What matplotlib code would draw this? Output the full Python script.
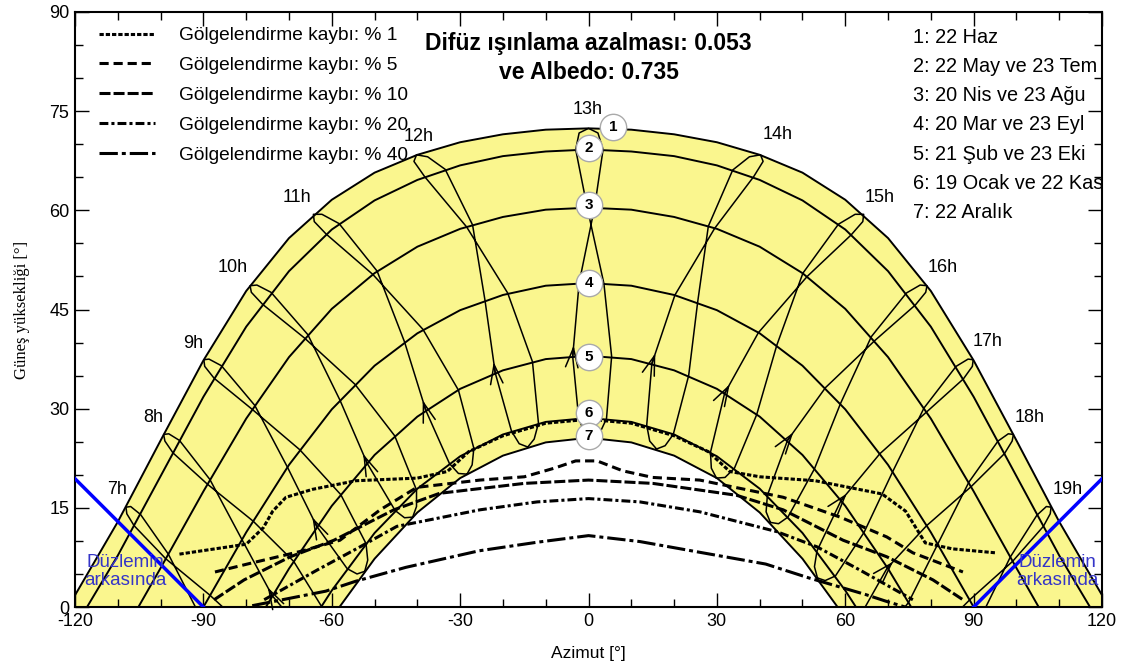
import matplotlib
matplotlib.use('Agg')
import matplotlib.pyplot as plt
from matplotlib.lines import Line2D

plt.rcParams['font.family'] = ['Liberation Sans', 'DejaVu Sans']
plt.rcParams['axes.unicode_minus'] = False

# date curves, symmetric about south: elevation read every 10 deg of azimuth
path_az = [0, 10, 20, 30, 40, 50, 60, 70, 80, 90, 100, 110, 120]
path_el = [
    [72.4, 72.2, 71.5, 70.3, 68.4, 65.7, 61.6, 55.8, 47.8, 37.3, 25.2, 12.9, 1.8],
    [69.2, 68.9, 68.2, 66.8, 64.6, 61.5, 57.1, 50.8, 42.4, 31.8, 19.8, 7.8],
    [60.4, 60.1, 59.0, 57.2, 54.5, 50.5, 45.1, 37.8, 28.5, 17.5, 5.9],
    [49.0, 48.6, 47.2, 44.9, 41.4, 36.5, 29.9, 21.5, 11.3],
    [38.0, 37.5, 35.8, 33.0, 28.8, 23.0, 15.3, 5.8],
    [28.6, 28.0, 26.1, 22.8, 17.9, 11.2, 2.5],
    [25.6, 24.9, 22.9, 19.5, 14.3, 7.3],
]
sunset_az = [121.8, 117.2, 105.2, 90.0, 75.4, 62.5, 58.2]
date_names = ['1: 22 Haz', '2: 22 May ve 23 Tem', '3: 20 Nis ve 23 Ağu', '4: 20 Mar ve 23 Eyl',
              '5: 21 Şub ve 23 Eki', '6: 19 Ocak ve 22 Kas', '7: 22 Aralık']
num_az = [5.8, 0, 0, 0, 0, 0, 0]
num_el = [72.6, 69.4, 60.8, 49.0, 37.8, 29.3, 25.8]

# hour loops, points in date order:
# Dec22 Jan6 Jan19 Feb21 Mar20 Apr20 May22 Jun7 Jun22 Jul7 Jul23 Aug23 Sep23 Oct23 Nov22 Dec7
hour_names = ['7h', '8h', '9h', '10h', '11h', '12h', '13h', '14h', '15h', '16h', '17h', '18h', '19h']
loop_az = [
    [-71.3, -73.2, -75.7, -83.6, -91.0, -98.2, -104.7, -107.0, -108.1, -107.9, -106.2, -98.8, -88.5, -78.8, -71.8, -71.0],
    [-62.2, -64.0, -66.4, -73.9, -81.0, -88.5, -95.6, -98.1, -99.3, -99.0, -97.1, -89.1, -78.4, -68.9, -62.4, -61.7],
    [-52.3, -54.1, -56.4, -63.5, -70.4, -78.0, -85.8, -88.7, -89.9, -89.7, -87.5, -78.6, -67.5, -57.9, -52.0, -51.6],
    [-41.1, -43.0, -45.2, -51.7, -58.1, -65.6, -74.2, -77.5, -79.1, -78.8, -76.2, -66.4, -54.6, -45.3, -40.2, -40.2],
    [-28.4, -30.4, -32.5, -38.0, -43.0, -49.4, -58.3, -62.3, -64.3, -64.1, -61.3, -50.4, -38.7, -30.4, -26.8, -27.2],
    [-14.2, -16.2, -18.0, -21.8, -24.2, -27.1, -33.5, -37.6, -40.2, -40.8, -38.3, -28.5, -18.9, -13.1, -11.7, -12.7],
    [0.9, -1.0, -2.3, -3.7, -2.2, 1.4, 3.4, 2.2, 0.0, -2.2, -3.0, -0.3, 3.6, 5.4, 4.2, 2.7],
    [15.9, 14.3, 13.6, 14.8, 20.2, 29.5, 38.6, 40.8, 40.2, 37.6, 33.7, 28.0, 25.5, 23.4, 19.8, 17.9],
    [29.9, 28.7, 28.5, 31.8, 39.7, 51.1, 61.4, 64.1, 64.3, 62.3, 58.4, 50.1, 44.0, 39.3, 34.1, 31.9],
    [42.5, 41.5, 41.8, 46.5, 55.4, 66.9, 76.4, 78.8, 79.1, 77.5, 74.3, 66.1, 58.9, 52.8, 46.6, 44.4],
    [53.5, 52.8, 53.4, 59.0, 68.1, 79.0, 87.6, 89.7, 89.9, 88.7, 85.9, 78.4, 71.1, 64.4, 57.7, 55.3],
    [63.3, 62.8, 63.6, 69.8, 79.0, 89.4, 97.2, 99.0, 99.3, 98.1, 95.7, 88.9, 81.6, 74.8, 67.5, 65.1],
    [72.4, 72.0, 73.0, 79.7, 89.1, 99.1, 106.3, 107.9, 108.1, 107.0, 104.8, 98.6, 91.5, 84.4, 76.7, 74.1],
]
loop_el = [
    [-14.5, -15.2, -14.8, -9.4, -1.1, 8.0, 14.0, 15.2, 15.1, 14.1, 12.3, 7.3, 1.8, -4.0, -10.4, -12.8],
    [-4.1, -4.7, -4.1, 1.7, 10.2, 19.3, 25.2, 26.2, 26.1, 25.1, 23.3, 18.6, 13.0, 6.9, 0.1, -2.4],
    [5.4, 5.0, 5.8, 12.2, 21.2, 30.5, 36.5, 37.5, 37.4, 36.4, 34.6, 29.9, 23.8, 17.0, 9.6, 7.1],
    [13.6, 13.5, 14.6, 21.7, 31.3, 41.2, 47.6, 48.7, 48.6, 47.6, 45.8, 40.7, 33.7, 25.9, 17.7, 15.2],
    [20.1, 20.2, 21.7, 29.7, 40.1, 50.8, 58.0, 59.4, 59.4, 58.3, 56.4, 50.3, 42.0, 32.8, 24.0, 21.5],
    [24.2, 24.7, 26.6, 35.4, 46.4, 57.8, 66.2, 68.1, 68.4, 67.4, 65.1, 57.5, 47.5, 37.1, 27.8, 25.4],
    [25.6, 26.4, 28.6, 37.9, 49.0, 60.4, 69.2, 71.7, 72.4, 71.7, 69.2, 60.4, 48.9, 37.9, 28.5, 26.4],
    [23.9, 25.1, 27.5, 36.8, 47.2, 57.3, 65.1, 67.4, 68.4, 68.1, 66.1, 57.6, 46.1, 35.0, 26.1, 24.4],
    [19.5, 21.0, 23.4, 32.3, 41.5, 50.0, 56.3, 58.3, 59.4, 59.4, 57.9, 50.5, 39.6, 29.1, 21.0, 19.6],
    [12.8, 14.4, 16.9, 25.2, 33.2, 40.3, 45.7, 47.6, 48.6, 48.7, 47.5, 40.9, 30.8, 20.9, 13.6, 12.6],
    [4.4, 6.1, 8.5, 16.1, 23.2, 29.5, 34.5, 36.4, 37.4, 37.5, 36.4, 30.1, 20.5, 11.3, 4.7, 4.0],
    [-5.3, -3.5, -1.2, 5.9, 12.3, 18.2, 23.2, 25.1, 26.1, 26.2, 25.1, 18.9, 9.5, 0.7, -5.3, -5.8],
    [-15.7, -13.9, -11.7, -5.0, 1.1, 6.9, 12.2, 14.1, 15.1, 15.2, 13.9, 7.6, -1.8, -10.5, -16.1, -16.4],
]
hour_label_az = [-110.2, -101.8, -92.4, -83.1, -68.1, -39.6, -0.1, 44.3, 68.1, 82.8, 93.3, 103.2, 112.0]
hour_label_el = [17.7, 28.7, 39.9, 51.3, 62.0, 71.1, 75.2, 71.4, 62.0, 51.3, 40.1, 28.7, 17.7]

# shading loss limit lines
loss_names = ['Gölgelendirme kaybı: % 1', 'Gölgelendirme kaybı: % 5', 'Gölgelendirme kaybı: % 10',
              'Gölgelendirme kaybı: % 20', 'Gölgelendirme kaybı: % 40']
loss1_az = [-95.6, -80.0, -76.0, -73.8, -70.7, -64.5, -54.4, -40.0, -33.0, -28.0, -20.0, -10.0, 0.0,
            10.0, 20.0, 28.0, 33.0, 40.0, 53.0, 68.6, 74.1, 78.7, 85.0, 95.1]
loss1_el = [8.0, 9.5, 12.0, 14.5, 16.6, 17.8, 19.1, 19.5, 20.5, 23.5, 25.9, 27.8, 28.4,
            27.8, 25.9, 23.5, 20.5, 19.7, 19.1, 17.1, 14.5, 9.7, 8.8, 8.2]
loss5_az = [-87.3, -79.1, -67.4, -58.1, -48.7, -40.1, -25.4, -15.0, -8.0, -3.0, 2.0, 8.0, 15.0,
            26.0, 45.5, 58.8, 69.7, 75.8, 87.5]
loss5_el = [5.3, 6.6, 8.4, 10.1, 14.7, 18.1, 19.2, 19.7, 21.0, 22.1, 22.1, 20.6, 19.6,
            19.2, 16.6, 13.6, 10.6, 8.2, 5.3]
loss10_az = [-87.5, -80.5, -69.7, -59.5, -45.5, -34.8, -15.0, 0.0, 15.0, 34.6, 45.5, 59.5, 69.7, 80.5, 87.5]
loss10_el = [1.1, 4.1, 7.6, 10.1, 14.7, 17.2, 18.7, 19.2, 18.7, 16.9, 14.7, 10.1, 7.6, 4.1, 1.1]
loss20_az = [-75.8, -63.4, -53.4, -44.8, -25.4, -12.0, 0.0, 12.0, 26.0, 44.0, 53.4, 63.4, 75.8]
loss20_el = [1.1, 5.6, 9.1, 12.2, 14.7, 15.9, 16.4, 15.9, 14.4, 11.4, 9.1, 5.6, 1.1]
loss40_az = [-78.6, -61.4, -54.4, -42.7, -25.6, -12.0, 0.0, 12.0, 25.8, 41.4, 51.5, 64.7, 69.4, 74.0]
loss40_el = [0.2, 2.4, 3.9, 6.0, 8.5, 9.8, 10.8, 9.9, 8.3, 6.5, 4.4, 1.9, 0.9, 0.0]
loss_styles = [(0, (1.4, 0.65)), (0, (3.0, 1.6)), (0, (3.6, 1.0)), (0, (2.9, 1.0, 1.0, 1.0)),
               (0, (6.0, 1.3, 1.3, 1.3))]

# "behind the plane" limits
plane_left_az = [-120, -90]
plane_right_az = [90, 120]
plane_el_left = [19.4, 0]
plane_el_right = [0, 19.4]
plane_text_az = [-108.3, 109.7]
plane_text_el = [5.4, 5.4]

yellow = '#faf68e'

fig = plt.figure(figsize=(11.32, 6.70), dpi=100)
ax = fig.add_axes([0.0663, 0.094, 0.9072, 0.8881])


def full_path(i):
    n = len(path_el[i])
    az = path_az[:n] + [sunset_az[i]]
    el = path_el[i] + [0.0]
    return [-a for a in az[::-1]] + az[1:], el[::-1] + el[1:]


x1, y1 = full_path(0)
ax.fill(x1, y1, color=yellow, lw=0, zorder=1)
x7, y7 = full_path(6)
ax.fill(x7, y7, color='white', lw=0, zorder=1.5)

for i in range(len(path_el)):
    x, y = full_path(i)
    ax.plot(x, y, color='black', lw=1.4, zorder=2)

for k in range(len(hour_names)):
    xs = loop_az[k] + [loop_az[k][0]]
    ys = loop_el[k] + [loop_el[k][0]]
    ax.plot(xs, ys, color='black', lw=1.1, zorder=2)
    # direction arrow on the Feb -> Mar leg
    x0, y0 = loop_az[k][3], loop_el[k][3]
    xa, ya = loop_az[k][4], loop_el[k][4]
    if y0 > 0.5:
        f = 0.15
        ax.annotate('', xy=(x0 + f * (xa - x0), y0 + f * (ya - y0)), xytext=(x0, y0),
                    arrowprops=dict(arrowstyle='->,head_length=1.4,head_width=0.45', lw=1.1,
                                    color='black', shrinkA=0, shrinkB=0), zorder=2.5)
    ax.text(hour_label_az[k], hour_label_el[k], hour_names[k], ha='center', va='center',
            fontsize=13, zorder=6)

loss_az = [loss1_az, loss5_az, loss10_az, loss20_az, loss40_az]
loss_el = [loss1_el, loss5_el, loss10_el, loss20_el, loss40_el]
handles = []
for j in range(5):
    ax.plot(loss_az[j], loss_el[j], color='black', lw=2.2, linestyle=loss_styles[j], zorder=3)
    handles.append(Line2D([], [], color='black', lw=2.2, linestyle=loss_styles[j]))

ax.plot(plane_left_az, plane_el_left, color='#0000ff', lw=2.5, zorder=4)
ax.plot(plane_right_az, plane_el_right, color='#0000ff', lw=2.5, zorder=4)
for k in range(2):
    ax.text(plane_text_az[k], plane_text_el[k], 'Düzlemin\narkasında', color='#3535c8',
            fontsize=13.5, ha='center', va='center', linespacing=1.05, zorder=6)

ax.plot(num_az, num_el, 'o', ms=19, mfc='white', mec='#aaaaaa', mew=1.0, zorder=5)
for i in range(len(num_az)):
    ax.text(num_az[i], num_el[i], str(i + 1), ha='center', va='center', fontsize=11,
            fontweight='bold', zorder=6)

for i, name in enumerate(date_names):
    ax.text(75.8, 86.2 - i * 4.43, name, ha='left', va='center', fontsize=14.3, zorder=6)

ax.text(0, 85.3, 'Difüz ışınlama azalması: 0.053', ha='center', va='center', fontsize=16.5,
        fontweight='bold', zorder=6)
ax.text(0, 80.8, 've Albedo: 0.735', ha='center', va='center', fontsize=16.5,
        fontweight='bold', zorder=6)

ax.legend(handles, loss_names, loc='upper left', bbox_to_anchor=(0.0234, 0.975), frameon=False,
          fontsize=13.8, handlelength=2.9, handletextpad=1.25, labelspacing=0.65, borderpad=0,
          borderaxespad=0)

ax.set_xlim(-120, 120)
ax.set_ylim(0, 90)
ax.set_xticks(range(-120, 121, 30))
ax.set_xticks(range(-120, 121, 10), minor=True)
ax.set_yticks(range(0, 91, 15))
ax.set_yticks(range(0, 91, 5), minor=True)
ax.tick_params(which='both', direction='in', top=True, right=True, labelsize=13, pad=4)
ax.tick_params(which='major', length=10, width=1.0)
ax.tick_params(which='minor', length=5.5, width=1.0)
for s in ax.spines.values():
    s.set_linewidth(1.5)

ax.set_xlabel('Azimut [°]', fontsize=12.5, labelpad=12)
ax.set_ylabel('Güneş yüksekliği [°]', fontsize=12, family='Liberation Serif', labelpad=14)

fig.savefig('out.png', dpi=100)
